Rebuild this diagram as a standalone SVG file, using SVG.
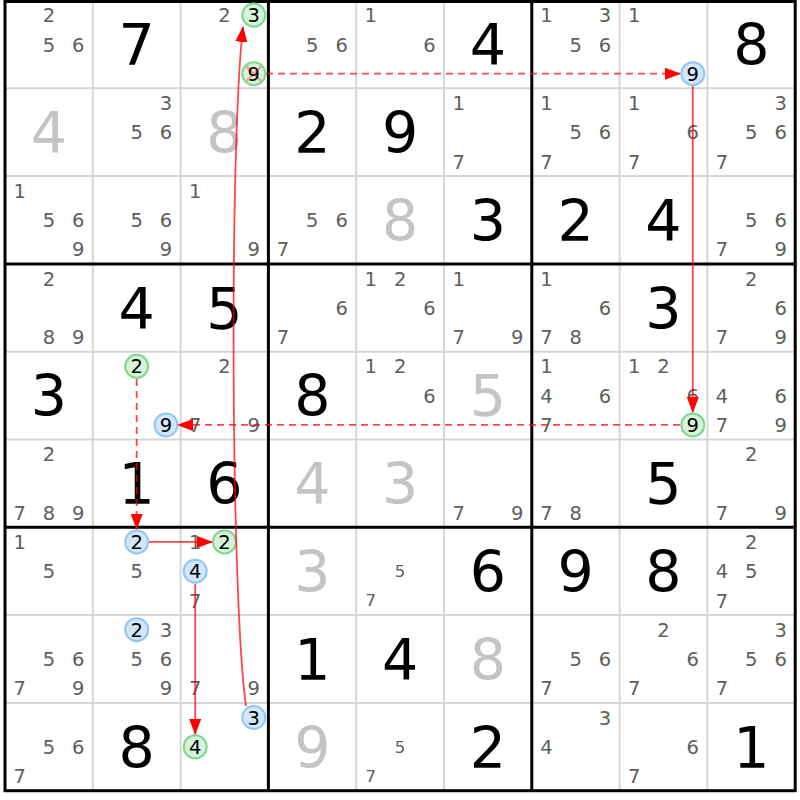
<svg xmlns="http://www.w3.org/2000/svg" width="800" height="800" viewBox="0 0 800 800">
<style>
text{font-family:"DejaVu Sans","Verdana",sans-serif;text-anchor:middle}
.c{font-size:19.5px;fill:#5e5e5e}
.k{font-size:19.5px;fill:#000}
.cs{font-size:16.5px;fill:#5e5e5e}
.g{font-size:57px;fill:#000}
.s{font-size:57px;fill:#c4c4c4}
.thin{stroke:#d6d6d6;stroke-width:2;fill:none}
.thick{stroke:#000;stroke-width:3;fill:none}
.cb{fill:#d2e7fc;stroke:#90c6f6;stroke-width:2}
.cg{fill:#d6f3da;stroke:#7cd88c;stroke-width:2}
.ln{stroke:#ff0000;stroke-opacity:0.72;stroke-width:1.8;fill:none}
.ds{stroke-dasharray:7 5}
</style>
<defs>
<marker id="ah" markerWidth="16" markerHeight="12" refX="15" refY="6" orient="auto" markerUnits="userSpaceOnUse">
<path d="M0,0 L16,6 L0,12 z" fill="#ff0000"/>
</marker>
</defs>
<rect x="0" y="0" width="800" height="800" fill="#fff"/>
<g id="grid">
<path class="thin" d="M92.8,0.5V790.7M180.6,0.5V790.7M356.2,0.5V790.7M444,0.5V790.7M619.6,0.5V790.7M707.4,0.5V790.7M5,88.3H795.2M5,176.1H795.2M5,351.7H795.2M5,439.5H795.2M5,615.1H795.2M5,702.9H795.2"/>
<path class="thick" d="M268.4,0.5V790.7M531.8,0.5V790.7M5,263.9H795.2M5,527.3H795.2"/>
<rect class="thick" x="5" y="1.5" width="790.2" height="789.2"/>
</g>
<g id="cells">
<g id="r0c0" transform="translate(5,0.5)"><text class="c" x="43.9" y="21.7">2</text><text class="c" x="43.9" y="51">5</text><text class="c" x="73.2" y="51">6</text></g>
<g id="r0c1" transform="translate(92.8,0.5)"><text class="g" x="43.9" y="64.7">7</text></g>
<g id="r0c2" transform="translate(180.6,0.5)"><text class="c" x="43.9" y="21.7">2</text><circle class="cg" cx="73.2" cy="14.6" r="11.5"/><text class="k" x="73.2" y="21.7">3</text><circle class="cg" cx="73.2" cy="73.2" r="11.5"/><path d="M66,66L80.4,80.4M80.4,66L66,80.4" stroke="#ff7070" stroke-opacity="0.6" stroke-width="2.5"/><text class="k" x="73.2" y="80.3">9</text></g>
<g id="r0c3" transform="translate(268.4,0.5)"><text class="c" x="43.9" y="51">5</text><text class="c" x="73.2" y="51">6</text></g>
<g id="r0c4" transform="translate(356.2,0.5)"><text class="c" x="14.6" y="21.7">1</text><text class="c" x="73.2" y="51">6</text></g>
<g id="r0c5" transform="translate(444,0.5)"><text class="g" x="43.9" y="64.7">4</text></g>
<g id="r0c6" transform="translate(531.8,0.5)"><text class="c" x="14.6" y="21.7">1</text><text class="c" x="73.2" y="21.7">3</text><text class="c" x="43.9" y="51">5</text><text class="c" x="73.2" y="51">6</text></g>
<g id="r0c7" transform="translate(619.6,0.5)"><text class="c" x="14.6" y="21.7">1</text><circle class="cb" cx="73.2" cy="73.2" r="11.5"/><text class="k" x="73.2" y="80.3">9</text></g>
<g id="r0c8" transform="translate(707.4,0.5)"><text class="g" x="43.9" y="64.7">8</text></g>

<g id="r1c0" transform="translate(5,88.3)"><text class="s" x="43.9" y="64.7">4</text></g>
<g id="r1c1" transform="translate(92.8,88.3)"><text class="c" x="73.2" y="21.7">3</text><text class="c" x="43.9" y="51">5</text><text class="c" x="73.2" y="51">6</text></g>
<g id="r1c2" transform="translate(180.6,88.3)"><text class="s" x="43.9" y="64.7">8</text></g>
<g id="r1c3" transform="translate(268.4,88.3)"><text class="g" x="43.9" y="64.7">2</text></g>
<g id="r1c4" transform="translate(356.2,88.3)"><text class="g" x="43.9" y="64.7">9</text></g>
<g id="r1c5" transform="translate(444,88.3)"><text class="c" x="14.6" y="21.7">1</text><text class="c" x="14.6" y="80.3">7</text></g>
<g id="r1c6" transform="translate(531.8,88.3)"><text class="c" x="14.6" y="21.7">1</text><text class="c" x="43.9" y="51">5</text><text class="c" x="73.2" y="51">6</text><text class="c" x="14.6" y="80.3">7</text></g>
<g id="r1c7" transform="translate(619.6,88.3)"><text class="c" x="14.6" y="21.7">1</text><text class="c" x="73.2" y="51">6</text><text class="c" x="14.6" y="80.3">7</text></g>
<g id="r1c8" transform="translate(707.4,88.3)"><text class="c" x="73.2" y="21.7">3</text><text class="c" x="43.9" y="51">5</text><text class="c" x="73.2" y="51">6</text><text class="c" x="14.6" y="80.3">7</text></g>

<g id="r2c0" transform="translate(5,176.1)"><text class="c" x="14.6" y="21.7">1</text><text class="c" x="43.9" y="51">5</text><text class="c" x="73.2" y="51">6</text><text class="c" x="73.2" y="80.3">9</text></g>
<g id="r2c1" transform="translate(92.8,176.1)"><text class="c" x="43.9" y="51">5</text><text class="c" x="73.2" y="51">6</text><text class="c" x="73.2" y="80.3">9</text></g>
<g id="r2c2" transform="translate(180.6,176.1)"><text class="c" x="14.6" y="21.7">1</text><text class="c" x="73.2" y="80.3">9</text></g>
<g id="r2c3" transform="translate(268.4,176.1)"><text class="c" x="43.9" y="51">5</text><text class="c" x="73.2" y="51">6</text><text class="c" x="14.6" y="80.3">7</text></g>
<g id="r2c4" transform="translate(356.2,176.1)"><text class="s" x="43.9" y="64.7">8</text></g>
<g id="r2c5" transform="translate(444,176.1)"><text class="g" x="43.9" y="64.7">3</text></g>
<g id="r2c6" transform="translate(531.8,176.1)"><text class="g" x="43.9" y="64.7">2</text></g>
<g id="r2c7" transform="translate(619.6,176.1)"><text class="g" x="43.9" y="64.7">4</text></g>
<g id="r2c8" transform="translate(707.4,176.1)"><text class="c" x="43.9" y="51">5</text><text class="c" x="73.2" y="51">6</text><text class="c" x="14.6" y="80.3">7</text><text class="c" x="73.2" y="80.3">9</text></g>

<g id="r3c0" transform="translate(5,263.9)"><text class="c" x="43.9" y="21.7">2</text><text class="c" x="43.9" y="80.3">8</text><text class="c" x="73.2" y="80.3">9</text></g>
<g id="r3c1" transform="translate(92.8,263.9)"><text class="g" x="43.9" y="64.7">4</text></g>
<g id="r3c2" transform="translate(180.6,263.9)"><text class="g" x="43.9" y="64.7">5</text></g>
<g id="r3c3" transform="translate(268.4,263.9)"><text class="c" x="73.2" y="51">6</text><text class="c" x="14.6" y="80.3">7</text></g>
<g id="r3c4" transform="translate(356.2,263.9)"><text class="c" x="14.6" y="21.7">1</text><text class="c" x="43.9" y="21.7">2</text><text class="c" x="73.2" y="51">6</text></g>
<g id="r3c5" transform="translate(444,263.9)"><text class="c" x="14.6" y="21.7">1</text><text class="c" x="14.6" y="80.3">7</text><text class="c" x="73.2" y="80.3">9</text></g>
<g id="r3c6" transform="translate(531.8,263.9)"><text class="c" x="14.6" y="21.7">1</text><text class="c" x="73.2" y="51">6</text><text class="c" x="14.6" y="80.3">7</text><text class="c" x="43.9" y="80.3">8</text></g>
<g id="r3c7" transform="translate(619.6,263.9)"><text class="g" x="43.9" y="64.7">3</text></g>
<g id="r3c8" transform="translate(707.4,263.9)"><text class="c" x="43.9" y="21.7">2</text><text class="c" x="73.2" y="51">6</text><text class="c" x="14.6" y="80.3">7</text><text class="c" x="73.2" y="80.3">9</text></g>

<g id="r4c0" transform="translate(5,351.7)"><text class="g" x="43.9" y="64.7">3</text></g>
<g id="r4c1" transform="translate(92.8,351.7)"><circle class="cg" cx="43.9" cy="14.6" r="11.5"/><text class="k" x="43.9" y="21.7">2</text><circle class="cb" cx="73.2" cy="73.2" r="11.5"/><text class="k" x="73.2" y="80.3">9</text></g>
<g id="r4c2" transform="translate(180.6,351.7)"><text class="c" x="43.9" y="21.7">2</text><text class="c" x="14.6" y="80.3">7</text><text class="c" x="73.2" y="80.3">9</text></g>
<g id="r4c3" transform="translate(268.4,351.7)"><text class="g" x="43.9" y="64.7">8</text></g>
<g id="r4c4" transform="translate(356.2,351.7)"><text class="c" x="14.6" y="21.7">1</text><text class="c" x="43.9" y="21.7">2</text><text class="c" x="73.2" y="51">6</text></g>
<g id="r4c5" transform="translate(444,351.7)"><text class="s" x="43.9" y="64.7">5</text></g>
<g id="r4c6" transform="translate(531.8,351.7)"><text class="c" x="14.6" y="21.7">1</text><text class="c" x="14.6" y="51">4</text><text class="c" x="73.2" y="51">6</text><text class="c" x="14.6" y="80.3">7</text></g>
<g id="r4c7" transform="translate(619.6,351.7)"><text class="c" x="14.6" y="21.7">1</text><text class="c" x="43.9" y="21.7">2</text><text class="c" x="73.2" y="51">6</text><circle class="cg" cx="73.2" cy="73.2" r="11.5"/><text class="k" x="73.2" y="80.3">9</text></g>
<g id="r4c8" transform="translate(707.4,351.7)"><text class="c" x="14.6" y="51">4</text><text class="c" x="73.2" y="51">6</text><text class="c" x="14.6" y="80.3">7</text><text class="c" x="73.2" y="80.3">9</text></g>

<g id="r5c0" transform="translate(5,439.5)"><text class="c" x="43.9" y="21.7">2</text><text class="c" x="14.6" y="80.3">7</text><text class="c" x="43.9" y="80.3">8</text><text class="c" x="73.2" y="80.3">9</text></g>
<g id="r5c1" transform="translate(92.8,439.5)"><text class="g" x="43.9" y="64.7">1</text></g>
<g id="r5c2" transform="translate(180.6,439.5)"><text class="g" x="43.9" y="64.7">6</text></g>
<g id="r5c3" transform="translate(268.4,439.5)"><text class="s" x="43.9" y="64.7">4</text></g>
<g id="r5c4" transform="translate(356.2,439.5)"><text class="s" x="43.9" y="64.7">3</text></g>
<g id="r5c5" transform="translate(444,439.5)"><text class="c" x="14.6" y="80.3">7</text><text class="c" x="73.2" y="80.3">9</text></g>
<g id="r5c6" transform="translate(531.8,439.5)"><text class="c" x="14.6" y="80.3">7</text><text class="c" x="43.9" y="80.3">8</text></g>
<g id="r5c7" transform="translate(619.6,439.5)"><text class="g" x="43.9" y="64.7">5</text></g>
<g id="r5c8" transform="translate(707.4,439.5)"><text class="c" x="43.9" y="21.7">2</text><text class="c" x="14.6" y="80.3">7</text><text class="c" x="73.2" y="80.3">9</text></g>

<g id="r6c0" transform="translate(5,527.3)"><text class="c" x="14.6" y="21.7">1</text><text class="c" x="43.9" y="51">5</text></g>
<g id="r6c1" transform="translate(92.8,527.3)"><circle class="cb" cx="43.9" cy="14.6" r="11.5"/><text class="k" x="43.9" y="21.7">2</text><text class="c" x="43.9" y="51">5</text></g>
<g id="r6c2" transform="translate(180.6,527.3)"><text class="c" x="14.6" y="21.7">1</text><circle class="cg" cx="43.9" cy="14.6" r="11.5"/><text class="k" x="43.9" y="21.7">2</text><circle class="cb" cx="14.6" cy="43.9" r="11.5"/><text class="k" x="14.6" y="51">4</text><text class="c" x="14.6" y="80.3">7</text></g>
<g id="r6c3" transform="translate(268.4,527.3)"><text class="s" x="43.9" y="64.7">3</text></g>
<g id="r6c4" transform="translate(356.2,527.3)"><text class="cs" x="43.9" y="49.9">5</text><text class="cs" x="14.6" y="79.2">7</text></g>
<g id="r6c5" transform="translate(444,527.3)"><text class="g" x="43.9" y="64.7">6</text></g>
<g id="r6c6" transform="translate(531.8,527.3)"><text class="g" x="43.9" y="64.7">9</text></g>
<g id="r6c7" transform="translate(619.6,527.3)"><text class="g" x="43.9" y="64.7">8</text></g>
<g id="r6c8" transform="translate(707.4,527.3)"><text class="c" x="43.9" y="21.7">2</text><text class="c" x="14.6" y="51">4</text><text class="c" x="43.9" y="51">5</text><text class="c" x="14.6" y="80.3">7</text></g>

<g id="r7c0" transform="translate(5,615.1)"><text class="c" x="43.9" y="51">5</text><text class="c" x="73.2" y="51">6</text><text class="c" x="14.6" y="80.3">7</text><text class="c" x="73.2" y="80.3">9</text></g>
<g id="r7c1" transform="translate(92.8,615.1)"><circle class="cb" cx="43.9" cy="14.6" r="11.5"/><text class="k" x="43.9" y="21.7">2</text><text class="c" x="73.2" y="21.7">3</text><text class="c" x="43.9" y="51">5</text><text class="c" x="73.2" y="51">6</text><text class="c" x="73.2" y="80.3">9</text></g>
<g id="r7c2" transform="translate(180.6,615.1)"><text class="c" x="14.6" y="80.3">7</text><text class="c" x="73.2" y="80.3">9</text></g>
<g id="r7c3" transform="translate(268.4,615.1)"><text class="g" x="43.9" y="64.7">1</text></g>
<g id="r7c4" transform="translate(356.2,615.1)"><text class="g" x="43.9" y="64.7">4</text></g>
<g id="r7c5" transform="translate(444,615.1)"><text class="s" x="43.9" y="64.7">8</text></g>
<g id="r7c6" transform="translate(531.8,615.1)"><text class="c" x="43.9" y="51">5</text><text class="c" x="73.2" y="51">6</text><text class="c" x="14.6" y="80.3">7</text></g>
<g id="r7c7" transform="translate(619.6,615.1)"><text class="c" x="43.9" y="21.7">2</text><text class="c" x="73.2" y="51">6</text><text class="c" x="14.6" y="80.3">7</text></g>
<g id="r7c8" transform="translate(707.4,615.1)"><text class="c" x="73.2" y="21.7">3</text><text class="c" x="43.9" y="51">5</text><text class="c" x="73.2" y="51">6</text><text class="c" x="14.6" y="80.3">7</text></g>

<g id="r8c0" transform="translate(5,702.9)"><text class="c" x="43.9" y="51">5</text><text class="c" x="73.2" y="51">6</text><text class="c" x="14.6" y="80.3">7</text></g>
<g id="r8c1" transform="translate(92.8,702.9)"><text class="g" x="43.9" y="64.7">8</text></g>
<g id="r8c2" transform="translate(180.6,702.9)"><circle class="cb" cx="73.2" cy="14.6" r="11.5"/><text class="k" x="73.2" y="21.7">3</text><circle class="cg" cx="14.6" cy="43.9" r="11.5"/><text class="k" x="14.6" y="51">4</text></g>
<g id="r8c3" transform="translate(268.4,702.9)"><text class="s" x="43.9" y="64.7">9</text></g>
<g id="r8c4" transform="translate(356.2,702.9)"><text class="cs" x="43.9" y="49.9">5</text><text class="cs" x="14.6" y="79.2">7</text></g>
<g id="r8c5" transform="translate(444,702.9)"><text class="g" x="43.9" y="64.7">2</text></g>
<g id="r8c6" transform="translate(531.8,702.9)"><text class="c" x="73.2" y="21.7">3</text><text class="c" x="14.6" y="51">4</text></g>
<g id="r8c7" transform="translate(619.6,702.9)"><text class="c" x="73.2" y="51">6</text><text class="c" x="14.6" y="80.3">7</text></g>
<g id="r8c8" transform="translate(707.4,702.9)"><text class="g" x="43.9" y="64.7">1</text></g>
</g>
<g id="connectors">
<path class="ln ds" d="M266,73.7H680" marker-end="url(#ah)"/>
<path class="ln" d="M692.8,86V412" marker-end="url(#ah)"/>
<path class="ln ds" d="M680,424.9H178" marker-end="url(#ah)"/>
<path class="ln ds" d="M136.7,379V529" marker-end="url(#ah)"/>
<path class="ln" d="M149,541.9H212" marker-end="url(#ah)"/>
<path class="ln" d="M195.2,584V734" marker-end="url(#ah)"/>
<path class="ln" d="M246,706C231,600 229,150 243,27" marker-end="url(#ah)"/>
</g>
</svg>
